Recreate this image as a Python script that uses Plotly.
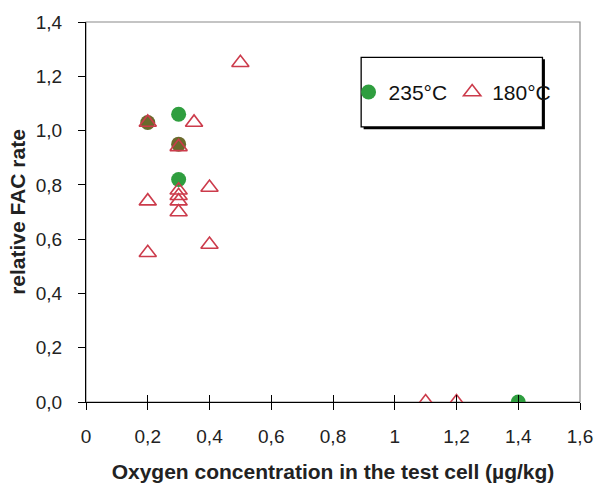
import plotly.graph_objects as go

# Relative FAC rate vs. oxygen concentration in the test cell
o2_235 = [0.3, 0.2, 0.3, 0.3, 1.4]
fac_235 = [1.06, 1.03, 0.95, 0.82, 0.0]

o2_180 = [0.5, 0.2, 0.35, 0.3, 0.4, 0.2, 0.3, 0.3, 0.3, 0.3, 0.2, 0.4, 1.1, 1.2]
fac_180 = [1.25, 1.03, 1.03, 0.94, 0.79, 0.74, 0.78, 0.76, 0.74, 0.70, 0.55, 0.58, 0.0, 0.0]

x_ticks = [0, 0.2, 0.4, 0.6, 0.8, 1.0, 1.2, 1.4, 1.6]
x_tick_text = ["0", "0,2", "0,4", "0,6", "0,8", "1", "1,2", "1,4", "1,6"]
y_ticks = [0, 0.2, 0.4, 0.6, 0.8, 1.0, 1.2, 1.4]
y_tick_text = ["0,0", "0,2", "0,4", "0,6", "0,8", "1,0", "1,2", "1,4"]

GREEN = "#2f9e3f"
OLIVE = "#6b6a2c"
RED = "#cc3b4b"
FONT = "Liberation Sans, Arial, sans-serif"


def hidden_under_triangle(x, y):
    # a circle that sits on a 180 °C triangle blends to an olive tone
    return y > 0 and any(abs(x - tx) < 1e-9 and abs(y - ty) < 0.015 for tx, ty in zip(o2_180, fac_180))


circle_colors = [OLIVE if hidden_under_triangle(x, y) else GREEN for x, y in zip(o2_235, fac_235)]

fig = go.Figure()
fig.add_trace(go.Scatter(
    x=o2_235, y=fac_235, mode="markers", name="235°C",
    marker=dict(symbol="circle", size=15, color=circle_colors, line=dict(width=0)),
))
fig.add_trace(go.Scatter(
    x=o2_180, y=fac_180, mode="markers", name="180°C",
    marker=dict(symbol="triangle-up-open", size=15, color=RED, line=dict(width=1.6, color=RED)),
))

axis_common = dict(
    showgrid=False, zeroline=False, showline=True, linecolor="black", linewidth=1.3,
    ticks="outside", ticklen=7, tickwidth=1.3, tickcolor="black",
    tickfont=dict(family=FONT, size=19, color="#222"),
)

fig.update_layout(
    width=605, height=494,
    margin=dict(l=86, r=16, t=16, b=92),
    paper_bgcolor="white", plot_bgcolor="white",
    showlegend=True,
    legend=dict(
        orientation="h", x=0.742, y=0.815, xanchor="center", yanchor="middle",
        bgcolor="rgba(0,0,0,0)", borderwidth=0,
        font=dict(family=FONT, size=21, color="#111"), itemwidth=30,
    ),
    xaxis=dict(
        **axis_common, range=[0, 1.6], tickvals=x_ticks, ticktext=x_tick_text,
        ticklabelstandoff=10,
        title=dict(text="<b>Oxygen concentration in the test cell (µg/kg)</b>",
                   font=dict(family=FONT, size=21, color="#222"), standoff=18),
    ),
    xaxis2=dict(
        overlaying="x", matches="x", anchor="y", side="bottom", range=[0, 1.6],
        tickvals=x_ticks, showticklabels=False, ticks="inside", ticklen=7, tickwidth=1.3,
        tickcolor="black", showgrid=False, zeroline=False, showline=False,
    ),
    yaxis=dict(
        **axis_common, range=[0, 1.4], tickvals=y_ticks, ticktext=y_tick_text,
        ticklabelstandoff=12,
        title=dict(text="<b>relative FAC rate</b>",
                   font=dict(family=FONT, size=21, color="#222"), standoff=4),
    ),
    shapes=[
        # grey frame around the plot area
        dict(type="rect", xref="paper", yref="paper", x0=0, y0=0, x1=1, y1=1,
             line=dict(color="#8a8a8a", width=1.2), layer="below"),
        # legend box with a drop shadow
        dict(type="rect", xref="paper", yref="paper", x0=0.562, y0=0.718, x1=0.929, y1=0.902,
             line=dict(width=0), fillcolor="black", layer="below"),
        dict(type="rect", xref="paper", yref="paper", x0=0.557, y0=0.724, x1=0.924, y1=0.907,
             line=dict(color="black", width=1.3), fillcolor="white", layer="below"),
    ],
)

# an empty trace on the overlay axis so its crossing tick marks are drawn
fig.add_trace(go.Scatter(x=[None], y=[None], xaxis="x2", showlegend=False, hoverinfo="skip"))

fig.write_html("out.html")
